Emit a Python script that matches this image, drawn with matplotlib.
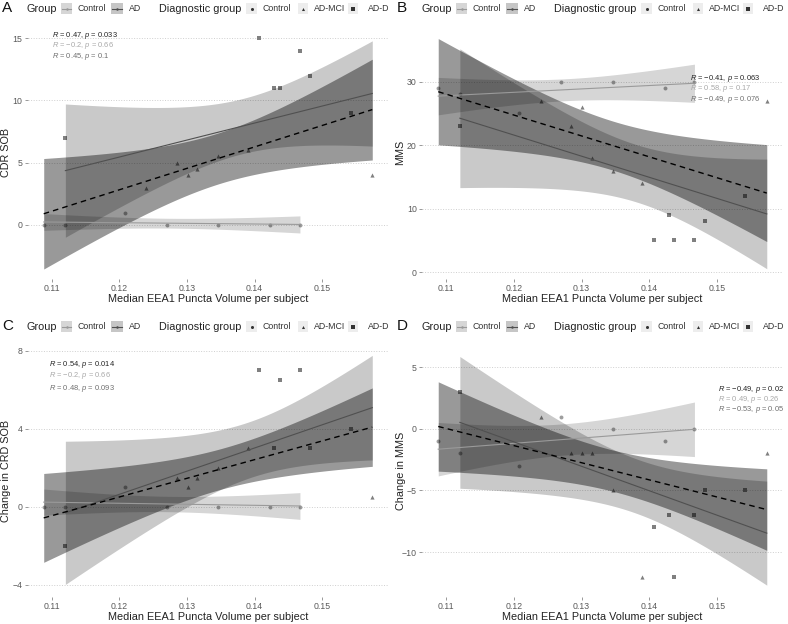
import math
import matplotlib
matplotlib.use("Agg")
import matplotlib.pyplot as plt
from matplotlib.patches import Rectangle
import numpy as np

plt.rcParams['font.family'] = ['Liberation Sans', 'DejaVu Sans']
plt.rcParams['mathtext.fontset'] = 'custom'
plt.rcParams['mathtext.it'] = 'Liberation Sans:italic'
plt.rcParams['mathtext.rm'] = 'Liberation Sans'

# median EEA1 puncta volume per subject
ctrl_x = [0.1088, 0.1120, 0.1208, 0.1270, 0.1346, 0.1423, 0.1467]
ad_x = [0.1120, 0.1240, 0.1285, 0.1301, 0.1315, 0.1346, 0.1390,
        0.1407, 0.1429, 0.1437, 0.1467, 0.1482, 0.1542, 0.1574]
ad_dx = ['AD-D', 'AD-MCI', 'AD-MCI', 'AD-MCI', 'AD-MCI', 'AD-MCI', 'AD-MCI',
         'AD-D', 'AD-D', 'AD-D', 'AD-D', 'AD-D', 'AD-D', 'AD-MCI']

# outcomes
cdr_ctrl = [0, 0, 1, 0, 0, 0, 0]
cdr_ad = [7, 3, 5, 4, 4.5, 5.5, 6, 15, 11, 11, 14, 12, 9, 4]
mms_ctrl = [29, 28, 25, 30, 30, 29, 30]
mms_ad = [23, 27, 23, 26, 18, 16, 14, 5, 9, 5, 5, 8, 12, 27]
dcdr_ctrl = [0, 0, 1, 0, 0, 0, 0]
dcdr_ad = [-2, np.nan, 1.5, 1, 1.5, 2, 3, 7, 3, 6.5, 7, 3, 4, 0.5]
dmms_ctrl = [-1, -2, -3, 1, 0, -1, 0]
dmms_ad = [3, 1, -2, -2, -2, -5, -12, -8, -7, -12, -7, -5, -5, -2]

ylabels = ['CDR SOB', 'MMS', 'Change in CRD SOB', 'Change in MMS']
yticks = [[0, 5, 10, 15], [0, 10, 20, 30], [-4, 0, 4, 8], [-10, -5, 0, 5]]
ylims = [(-4.3, 15.9), (-1.0, 38.6), (-4.6, 8.3), (-13.6, 6.8)]
xticks = [0.11, 0.12, 0.13, 0.14, 0.15]

stats = [
    ['$R$ = 0.47, $p$ = 0.033', '$R$ = \u22120.2, $p$ = 0.66', '$R$ = 0.45, $p$ = 0.1'],
    ['$R$ = \u22120.41, $p$ = 0.063', '$R$ = 0.58, $p$ = 0.17', '$R$ = \u22120.49, $p$ = 0.076'],
    ['$R$ = 0.54, $p$ = 0.014', '$R$ = \u22120.2, $p$ = 0.66', '$R$ = 0.48, $p$ = 0.093'],
    ['$R$ = \u22120.49, $p$ = 0.02', '$R$ = 0.49, $p$ = 0.26', '$R$ = \u22120.53, $p$ = 0.05'],
]
stat_pos = [(0.1100, [15.25, 14.4, 13.5]), (0.1461, [30.5, 28.9, 27.2]),
            (0.1096, [7.31, 6.71, 6.08]), (0.1502, [3.2, 2.4, 1.55])]
stat_cols = ['#222222', '#a8a8a8', '#6e6e6e']

shapes = {'Control': 'o', 'AD-MCI': '^', 'AD-D': 's'}
C_CTRL_LINE = '#9a9a9a'
C_AD_LINE = '#505050'


def t975(df):
    xs = np.linspace(0, 12, 24001)
    c = math.gamma((df + 1) / 2) / (math.sqrt(df * math.pi) * math.gamma(df / 2))
    pdf = c * (1 + xs ** 2 / df) ** (-(df + 1) / 2)
    cdf = 0.5 + np.concatenate([[0], np.cumsum((pdf[1:] + pdf[:-1]) / 2 * np.diff(xs))])
    return np.interp(0.975, cdf, xs)


def lm_band(x, y):
    x = np.asarray(x, float)
    y = np.asarray(y, float)
    ok = ~np.isnan(y)
    x, y = x[ok], y[ok]
    n = len(x)
    b, a = np.polyfit(x, y, 1)
    X = np.linspace(x.min(), x.max(), 80)
    fit = a + b * X
    s = np.sqrt(np.sum((y - (a + b * x)) ** 2) / (n - 2))
    se = s * np.sqrt(1 / n + (X - x.mean()) ** 2 / np.sum((x - x.mean()) ** 2))
    t = t975(n - 2)
    return X, fit, fit - t * se, fit + t * se


W, H = 788, 624
fig = plt.figure(figsize=(7.88, 6.24), dpi=100)

panels = [(27.5, 27, cdr_ctrl, cdr_ad), (422, 27, mms_ctrl, mms_ad),
          (27.5, 345, dcdr_ctrl, dcdr_ad), (422, 345, dmms_ctrl, dmms_ad)]
pw, ph = 361, 251.5

for i, (px, py, yc, ya) in enumerate(panels):
    ax = fig.add_axes([px / W, 1 - (py + ph) / H, pw / W, ph / H])
    for s in ax.spines.values():
        s.set_visible(False)
    ax.set_xlim(0.1064, 0.1598)
    ax.set_ylim(*ylims[i])
    ax.set_xticks(xticks)
    ax.set_xticklabels(['%.2f' % v for v in xticks])
    ax.set_yticks(yticks[i])
    ax.tick_params(length=2, width=0.6, color='#888888', labelcolor='#5a5a5a',
                   labelsize=6.3, pad=1.8)
    ax.grid(axis='y', linestyle=':', color='#cfcfcf', linewidth=0.7)
    ax.set_axisbelow(True)

    # points
    ax.scatter(ctrl_x, yc, marker='o', s=8, color='#9e9e9e', linewidths=0, zorder=2)
    for dx in ['AD-MCI', 'AD-D']:
        xs = [x for x, d in zip(ad_x, ad_dx) if d == dx]
        ys = [y for y, d in zip(ya, ad_dx) if d == dx]
        ax.scatter(xs, ys, marker=shapes[dx], s=9, color='#808080', linewidths=0, zorder=2)

    # smooths
    Xc, fc, lc, uc = lm_band(ctrl_x, yc)
    Xa, fa, la, ua = lm_band(ad_x, ya)
    Xo, fo, lo, uo = lm_band(ctrl_x + ad_x, list(yc) + list(ya))
    ax.fill_between(Xc, lc, uc, color='black', alpha=0.16, linewidth=0, zorder=3)
    ax.fill_between(Xa, la, ua, color='black', alpha=0.21, linewidth=0, zorder=3)
    ax.fill_between(Xo, lo, uo, color='black', alpha=0.40, linewidth=0, zorder=3)
    ax.plot(Xc, fc, color=C_CTRL_LINE, lw=0.8, zorder=4)
    ax.plot(Xa, fa, color=C_AD_LINE, lw=0.8, zorder=4)
    ax.plot(Xo, fo, color='black', lw=1.0, ls=(0, (4, 3)), zorder=5)

    sx, sys_ = stat_pos[i]
    for txt, yy, col in zip(stats[i], sys_, stat_cols):
        ax.text(sx, yy, txt, fontsize=5.4, color=col, ha='left', va='center', zorder=6)

    ax.set_xlabel('Median EEA1 Puncta Volume per subject', fontsize=7.8,
                  color='#222222', va='center')
    ax.xaxis.set_label_coords(0.5, -20.5 / ph)
    ax.set_ylabel(ylabels[i], fontsize=7.8, color='#222222', va='center')
    ax.yaxis.set_label_coords(-21.5 / pw, 0.5)

# legends and panel letters, drawn in pixel space
ov = fig.add_axes([0, 0, 1, 1])
ov.set_xlim(0, W)
ov.set_ylim(H, 0)
ov.axis('off')

letters = ['A', 'B', 'C', 'D']
offsets = [(0, 0), (395, 0), (0, 318), (395, 318)]
for letter, (ox, oy) in zip(letters, offsets):
    cy = oy + 8.5
    ov.text(ox + 2, cy, letter, fontsize=11, ha='left', va='center', color='#111111')
    ov.text(ox + 26.5, cy, 'Group', fontsize=7.8, ha='left', va='center', color='#222222')
    for kx, bg, lc, lab, tx in [(61, '#d6d6d6', C_CTRL_LINE, 'Control', 78),
                                 (111.5, '#c6c6c6', C_AD_LINE, 'AD', 129)]:
        ov.add_patch(Rectangle((ox + kx, cy - 5.5), 11.5, 11, color=bg, lw=0))
        ov.plot([ox + kx + 1, ox + kx + 10.5], [cy, cy], color=lc, lw=0.8)
        ov.plot([ox + kx + 5.75], [cy], marker='o', ms=1.8, color=lc, mew=0)
        ov.text(ox + tx, cy, lab, fontsize=6.3, ha='left', va='center', color='#333333')
    ov.text(ox + 159, cy, 'Diagnostic group', fontsize=7.8, ha='left', va='center',
            color='#222222')
    for kx, mk, lab, tx in [(246.5, 'o', 'Control', 263), (298, '^', 'AD-MCI', 314),
                            (348, 's', 'AD-D', 368)]:
        ov.add_patch(Rectangle((ox + kx, cy - 5.5), 10.5, 11, color='#ededed', lw=0))
        ov.plot([ox + kx + 5.25], [cy], marker=mk, ms=2.2, color='#333333', mew=0)
        ov.text(ox + tx, cy, lab, fontsize=6.3, ha='left', va='center', color='#333333')

fig.savefig('out.png', dpi=100)
